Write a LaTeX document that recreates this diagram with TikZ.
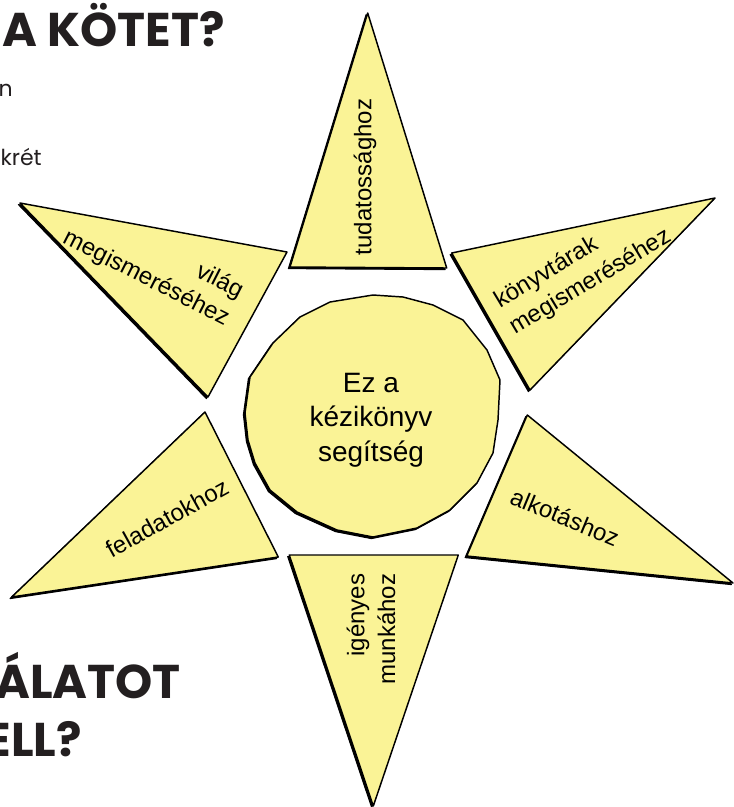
\documentclass[tikz,border=0pt]{standalone}
\usepackage{fontspec}
\setmainfont{Liberation Sans}
\newfontfamily\headfont{Poppins}
\usepackage{tikz}
\usetikzlibrary{positioning}
\definecolor{sunyellow}{RGB}{250,243,150}
\definecolor{inkblack}{RGB}{35,31,32}
\newcommand{\sunray}[3]{%
  \filldraw[rayshade, shift={(-1.6,1.6)}] #1 -- #2 -- #3 -- cycle;
  \filldraw[ray] #1 -- #2 -- #3 -- cycle;}
\newcommand{\hubpath}{(373,295) -- (403,297) -- (433,305) -- (463,320) -- (487,350) -- (500,380)
  -- (498,420) -- (493,453) -- (477,483) -- (450,510) -- (417,528) -- (373,537) -- (337,530)
  -- (297,512) -- (270,490) -- (255,463) -- (248,440) -- (245,413) -- (250,377) -- (273,343)
  -- (300,317) -- (330,302) -- cycle}

\begin{document}
\begin{tikzpicture}[x=0.75pt, y=-0.75pt,
    ray/.style={fill=sunyellow, draw=black, line width=1.1pt, line join=round},
    rayshade/.style={fill=black, draw=black, line width=0.8pt, line join=round},
    raytext/.style={font=\fontsize{18}{23}\selectfont, inner sep=0pt},
    head/.style={font=\headfont\bfseries\fontsize{35.5}{40}\selectfont, text=inkblack, inner sep=0pt, anchor=base east},
    body/.style={font=\headfont\fontsize{16.5}{20}\selectfont, text=inkblack, inner sep=0pt, anchor=base east}]
\useasboundingbox (0,0) rectangle (734,807);

% page text behind the sun
\node[head] (kotet) at (225,46.7) {A KÖTET?};
\node[body] (sorn) at (13,96.7) {n};
\node[body] (sorkret) at (42,165) {krét};
\node[head] (latot) at (181,698) {ÁLATOT};
\node[head] (kell) at (82,756) {ELL?};

% rays
\sunray{(367.7,13)}{(290,267)}{(446.7,268)}
\sunray{(20,203)}{(287,252)}{(208,397)}
\sunray{(451.7,253)}{(715,198)}{(530,390)}
\sunray{(205,412)}{(11.7,597)}{(278.3,557)}
\sunray{(527.3,415)}{(466.7,556)}{(733,583)}
\sunray{(289.3,555)}{(458.3,555)}{(373.3,806)}

% hub
\filldraw[rayshade, shift={(-1.6,1.6)}] \hubpath;
\filldraw[ray] \hubpath;

\node[raytext, rotate=90] (tudat) at (365,177) {tudatossághoz};
\node[raytext, rotate=-27, align=right] (vilag) at (153,265) {világ\\megismeréséhez};
\node[raytext, rotate=31, align=left] (konyvtar) at (583,269) {könyvtárak\\megismeréséhez};
\node[raytext, rotate=29] (felad) at (167,518) {feladatokhoz};
\node[raytext, rotate=-22.5] (alkot) at (565,517) {alkotáshoz};
\node[raytext, rotate=90, align=right] (igenyes) at (371,629) {igényes\\munkához};
\node[align=center, font=\fontsize{21}{26}\selectfont] (hub) at (371,420) {Ez a\\kézikönyv\\segítség};
\end{tikzpicture}
\end{document}
